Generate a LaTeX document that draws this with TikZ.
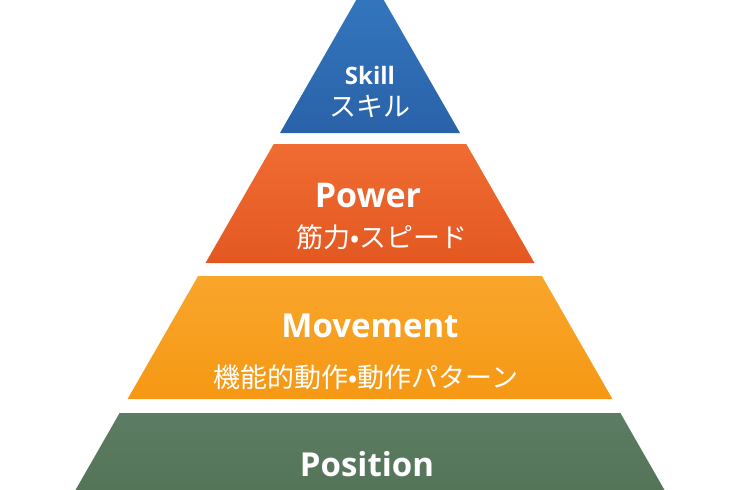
\documentclass[tikz,border=0pt]{standalone}
\usepackage{fontspec}
\setmainfont{Open Sans}
\newfontfamily\jpfont{Noto Sans CJK JP}
\begin{document}
\begin{tikzpicture}[x=1pt,y=-1pt,
  tiertitle/.style={text=white,font=\bfseries\fontsize{33}{33}\selectfont,inner sep=0pt,anchor=center},
  tiersub/.style={text=white,font=\jpfont\fontsize{27}{27}\selectfont,inner sep=0pt,anchor=center}]
\definecolor{skillTop}{HTML}{3479C1}\definecolor{skillBot}{HTML}{2A62A8}
\definecolor{powerTop}{HTML}{EF6C32}\definecolor{powerBot}{HTML}{E35821}
\definecolor{moveTop}{HTML}{F9A62C}\definecolor{moveBot}{HTML}{F59814}
\definecolor{posTop}{HTML}{5C7C63}\definecolor{posBot}{HTML}{557559}
\useasboundingbox (0,0) rectangle (740,490);
\begin{scope}
\clip (0,0) rectangle (740,490);
% top tier: triangle whose apex sits just above the page
\shade[top color=skillTop,bottom color=skillBot] (370,-24) -- (460,133) -- (280,133) -- cycle;
% trapezoid tiers, all on the same pair of slanted sides
\shade[top color=powerTop,bottom color=powerBot] (273.7,144) -- (466.3,144) -- (534.5,263) -- (205.5,263) -- cycle;
\shade[top color=moveTop,bottom color=moveBot] (198.1,276) -- (541.9,276) -- (612.4,399) -- (127.6,399) -- cycle;
\shade[top color=posTop,bottom color=posBot] (119.6,413) -- (620.4,413) -- (664.5,490) -- (75.5,490) -- cycle;
\end{scope}
% labels
\node[tiertitle,font=\bfseries\fontsize{24}{24}\selectfont] (skill) at (370,75) {Skill};
\node[tiersub] (skilljp) at (370,106) {スキル};
\node[tiertitle,font=\bfseries\fontsize{34}{34}\selectfont] (power) at (368,196) {Power};
\node[tiersub] (powerjp) at (382,237) {筋力•スピード};
\node[tiertitle] (movement) at (370,326) {Movement};
\node[tiersub] (movementjp) at (366,377) {機能的動作•動作パターン};
\node[tiertitle] (position) at (367,464) {Position};
\end{tikzpicture}
\end{document}
